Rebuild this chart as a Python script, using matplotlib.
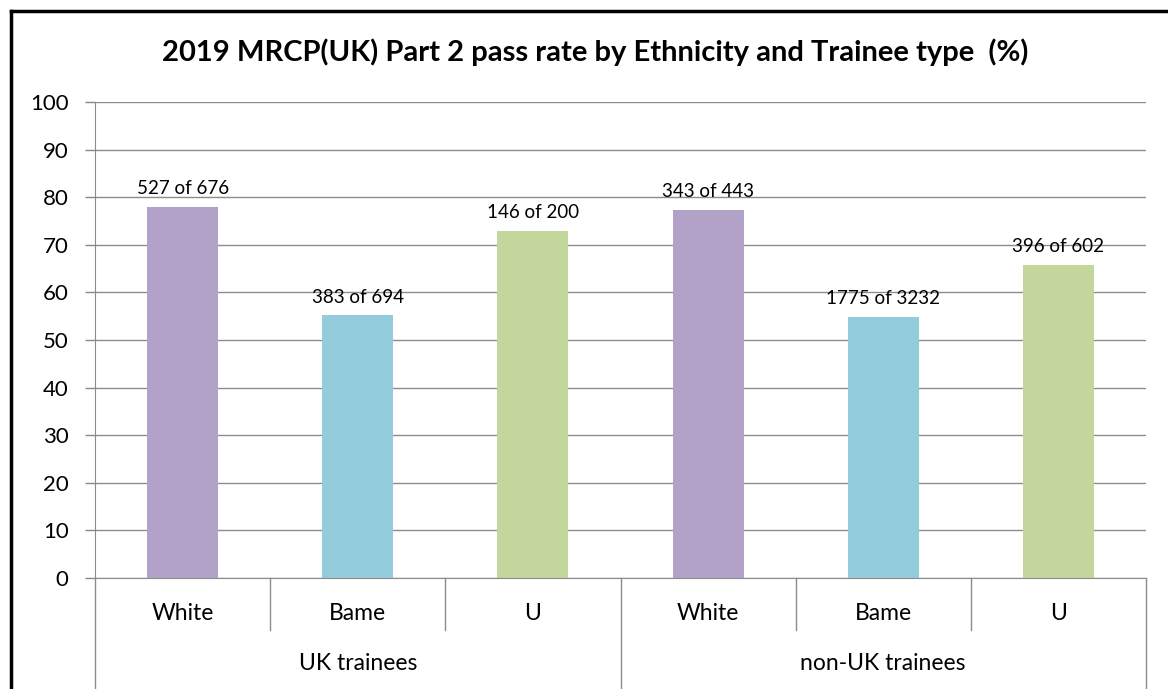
import matplotlib
matplotlib.use("Agg")
import matplotlib.pyplot as plt
from matplotlib.lines import Line2D
import matplotlib.transforms as mtransforms

plt.rcParams['font.family'] = ['Lato', 'DejaVu Sans']

title = "2019 MRCP(UK) Part 2 pass rate by Ethnicity and Trainee type  (%)"
groups = ["UK trainees", "non-UK trainees"]
ethnicities = ["White", "Bame", "U"]
pass_rates = [78.0, 55.2, 73.0, 77.4, 54.9, 65.8]
bar_labels = ["527 of 676", "383 of 694", "146 of 200",
              "343 of 443", "1775 of 3232", "396 of 602"]
colors = ["#B3A2C7", "#93CDDD", "#C3D69B"]
yticks = list(range(0, 101, 10))

W, H = 1168, 689
fig = plt.figure(figsize=(W / 100, H / 100), dpi=100)
ax = fig.add_axes([95 / W, 1 - 578 / H, (1146 - 95) / W, (578 - 102) / H])

n = len(pass_rates)
xs = [i + 0.5 for i in range(n)]
bar_colors = [colors[i % 3] for i in range(n)]
ax.bar(xs, pass_rates, width=0.405, color=bar_colors, zorder=3)

for x, v, lab in zip(xs, pass_rates, bar_labels):
    ax.annotate(lab, (x, v), xytext=(0, 7), textcoords="offset points",
                ha="center", va="bottom", fontsize=13.5, color="black", zorder=4)

ax.set_xlim(0, n)
ax.set_ylim(0, 100)
ax.set_yticks(yticks)
ax.set_yticklabels([str(t) for t in yticks], fontsize=16)
ax.tick_params(axis="y", length=7, color="#888888", width=1, pad=12)
ax.set_xticks([])
grid_c = "#8c8c8c"
ax.grid(axis="y", color=grid_c, linewidth=1, zorder=1)
for s in ["top", "right"]:
    ax.spines[s].set_visible(False)
ax.spines["left"].set_color(grid_c)
ax.spines["bottom"].set_color(grid_c)
ax.spines["bottom"].set_zorder(5)

trans = mtransforms.blended_transform_factory(ax.transData, ax.transAxes)
axis_h = 578 - 102
inner_low = -52 / axis_h
outer_low = -(H - 578) / axis_h
for i in range(n + 1):
    low = outer_low if i % 3 == 0 else inner_low
    ax.add_line(Line2D([i, i], [0, low], transform=trans, color=grid_c,
                       linewidth=1, clip_on=False))

for x, i in zip(xs, range(n)):
    ax.text(x, -35 / axis_h, ethnicities[i % 3], transform=trans,
            ha="center", va="center", fontsize=16.5)
for g, name in enumerate(groups):
    ax.text(1.5 + 3 * g, -85 / axis_h, name, transform=trans,
            ha="center", va="center", fontsize=16.5)

fig.text(595 / W, 1 - 52 / H, title, ha="center", va="center",
         fontsize=21, fontweight="bold")

# outer frame (left and top edges)
fig.add_artist(Line2D([11 / W, 11 / W], [0, 1 - 11 / H], transform=fig.transFigure,
                      color="black", linewidth=2.5))
fig.add_artist(Line2D([11 / W, 1], [1 - 11 / H, 1 - 11 / H], transform=fig.transFigure,
                      color="black", linewidth=2.5))

fig.savefig("out.png", dpi=100)
